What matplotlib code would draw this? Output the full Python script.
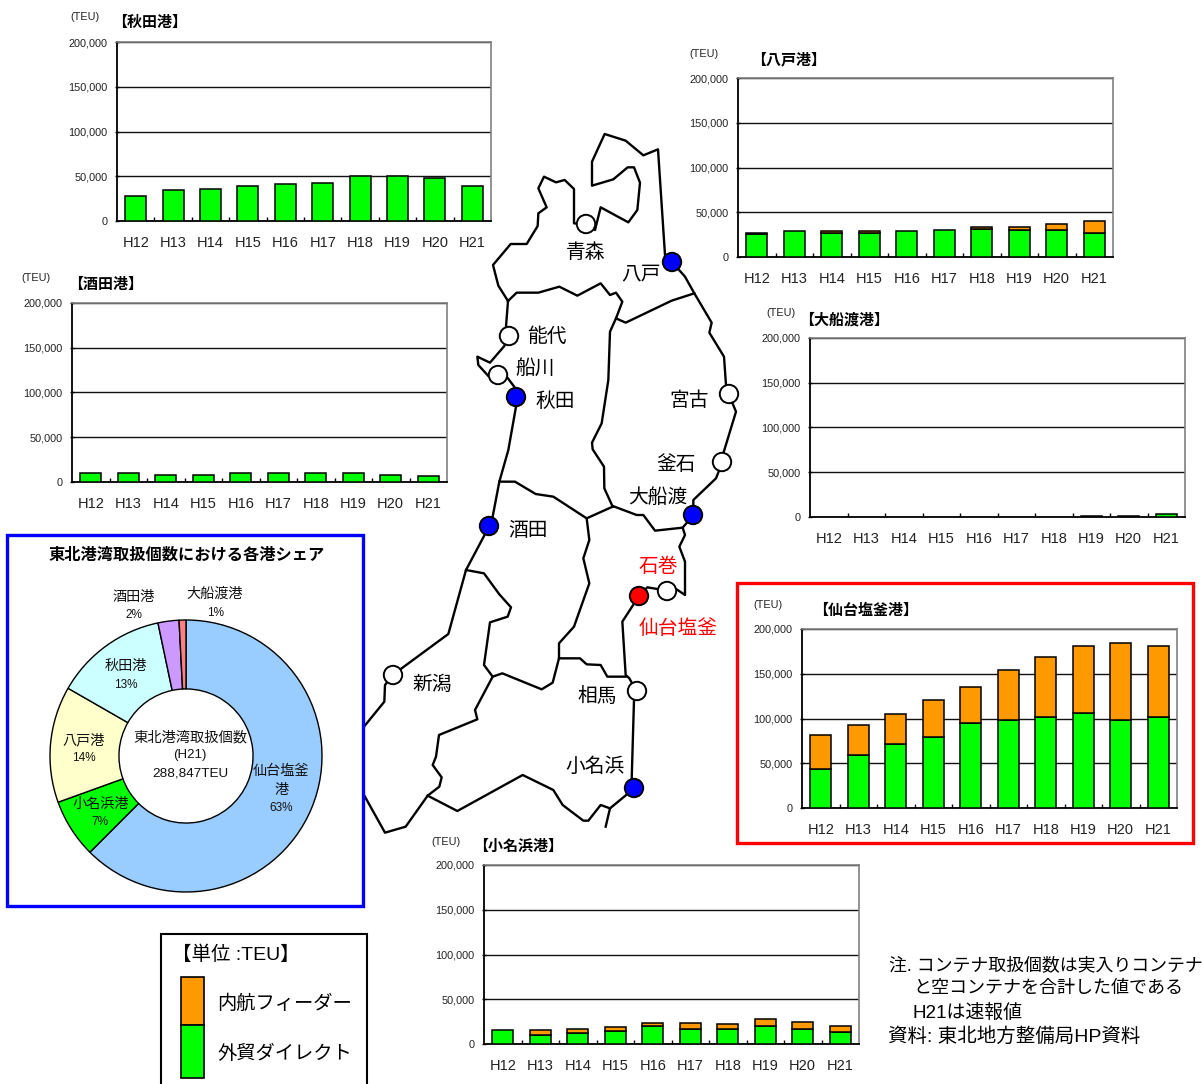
import matplotlib
matplotlib.use("Agg")
import matplotlib.pyplot as plt
from matplotlib.patches import Rectangle, Circle

plt.rcParams["font.family"] = ["Liberation Sans", "Noto Sans CJK JP"]

W, H = 1203, 1084

years = ["H12", "H13", "H14", "H15", "H16", "H17", "H18", "H19", "H20", "H21"]
y_ticks = [0, 50000, 100000, 150000, 200000]

# direct / total per port
akita_direct = [28400, 35100, 36300, 39600, 41100, 43000, 50800, 50800, 47500, 39600]
akita_total = [28400, 35100, 36300, 39600, 41100, 43000, 50800, 50800, 47500, 39600]
hachinohe_direct = [25700, 28700, 26400, 26400, 28700, 30200, 31700, 29800, 29800, 26800]
hachinohe_total = [27200, 28700, 28700, 28700, 28700, 30200, 33500, 33500, 36900, 39900]
sakata_direct = [10000, 10000, 8000, 8000, 9500, 9500, 9500, 9500, 8000, 6500]
sakata_total = [10000, 10000, 8000, 8000, 9500, 9500, 9500, 9500, 8000, 6500]
ofunato_direct = [0, 0, 0, 0, 0, 0, 0, 1500, 1500, 3000]
ofunato_total = [0, 0, 0, 0, 0, 0, 0, 1500, 1500, 3000]
sendai_direct = [43900, 58700, 71700, 79600, 95200, 98500, 101500, 106300, 98500, 101500]
sendai_total = [81400, 92600, 104800, 121200, 135000, 154300, 168400, 180700, 184400, 180700]
onahama_direct = [15300, 10400, 11900, 14900, 20100, 17200, 17200, 20100, 17200, 13800]
onahama_total = [15300, 15700, 17200, 19000, 23900, 23900, 22000, 28400, 25000, 20500]

share_values = [180500, 20200, 39900, 38700, 7200, 2350]
share_colors = ["#99CCFF", "#00FF00", "#FFFFCC", "#CCFFFF", "#CC99FF", "#FF8080"]

GREEN = "#00FF00"
ORANGE = "#FF9900"

# map outlines, pixel positions times 3 relative to the two crops they were traced on
north_lines = [
    [(444, 543), (415, 497), (399, 435), (452, 372), (500, 372), (533, 318), (535, 280), (560, 262),
     (535, 205), (552, 170), (588, 187), (614, 180), (642, 207), (642, 310), (678, 313), (705, 330),
     (722, 262), (805, 307), (832, 270), (840, 188), (822, 142), (803, 142), (760, 178), (696, 197),
     (696, 125), (734, 42), (797, 62), (850, 106), (894, 88), (915, 405), (937, 427), (975, 470),
     (1003, 520), (1055, 608), (1048, 638), (1092, 710), (1098, 795), (1106, 822), (1128, 875),
     (1090, 1000), (1087, 1027), (1068, 1075), (1000, 1140), (1000, 1180)],
    [(444, 543), (470, 518), (535, 518), (598, 500), (652, 527), (722, 490), (750, 525), (768, 518),
     (787, 545), (768, 595), (797, 608), (935, 542), (1003, 520)],
    [(768, 595), (750, 635), (745, 780), (725, 910), (696, 968), (698, 988), (732, 1040), (733, 1105),
     (758, 1160)],
    [(444, 543), (438, 620), (447, 647), (433, 678), (390, 728), (352, 710), (355, 735), (385, 768),
     (414, 766), (440, 770), (470, 810), (470, 832), (468, 860), (445, 990), (418, 1085), (398, 1190)],
    [(418, 1085), (465, 1085), (527, 1122), (580, 1130), (680, 1195), (758, 1160)],
]
south_lines = [
    [(758, 18), (830, 45), (850, 45), (885, 92), (968, 83), (1000, 45)],
    [(968, 83), (975, 105), (958, 140), (975, 185), (975, 285), (950, 268), (922, 272), (862, 262),
     (837, 288), (787, 365), (797, 525), (808, 535), (830, 575), (822, 600), (815, 840), (823, 865),
     (750, 925), (722, 915), (685, 962), (670, 962), (608, 915), (580, 870), (488, 825), (292, 933),
     (203, 887)],
    [(750, 925), (737, 980)],
    [(680, 55), (688, 120), (670, 175), (688, 250), (642, 380), (597, 430), (597, 475), (578, 548),
     (545, 568), (427, 520), (398, 530), (372, 495), (390, 367), (443, 350), (453, 322), (418, 283),
     (372, 220), (318, 210)],
    [(388, 78), (318, 210), (265, 402), (125, 505), (98, 525), (75, 555), (73, 605), (12, 680)],
    [(597, 475), (660, 475), (680, 493), (722, 495), (742, 530), (797, 530)],
    [(398, 530), (345, 630), (352, 658), (237, 705), (228, 770), (218, 795), (245, 832), (238, 860),
     (203, 887), (137, 980), (75, 998), (12, 885)],
]

# port name, marker x, y, marker colour, label x, y, label colour
ports = [
    ("青森", 586, 224, "white", 586, 253, "black"),
    ("八戸", 672, 262, "#0000FF", 641, 275, "black"),
    ("能代", 509, 336, "white", 547, 336, "black"),
    ("船川", 498, 375, "white", 535, 368, "black"),
    ("秋田", 516, 397, "#0000FF", 555, 401, "black"),
    ("宮古", 729, 394, "white", 689, 401, "black"),
    ("釜石", 722, 462, "white", 676, 465, "black"),
    ("大船渡", 693, 515, "#0000FF", 658, 497, "black"),
    ("酒田", 489, 526, "#0000FF", 528, 530, "black"),
    ("石巻", 667, 591, "white", 658, 566, "#FF0000"),
    ("仙台塩釜", 639, 596, "#FF0000", 678, 628, "#FF0000"),
    ("新潟", 393, 675, "white", 432, 684, "black"),
    ("相馬", 637, 691, "white", 597, 696, "black"),
    ("小名浜", 634, 788, "#0000FF", 595, 766, "black"),
]


def px_axes(fig, x0, y0, x1, y1):
    """axes from pixel corners, y counted from the top"""
    return fig.add_axes([x0 / W, 1 - y1 / H, (x1 - x0) / W, (y1 - y0) / H])


def bar_chart(fig, box, direct, total):
    ax = px_axes(fig, *box)
    x = list(range(len(years)))
    for i, (d, t) in enumerate(zip(direct, total)):
        if d > 0:
            ax.bar(i, d, width=0.56, color=GREEN, edgecolor="black", linewidth=1.1, zorder=3)
        if t > d:
            ax.bar(i, t - d, width=0.56, bottom=d, color=ORANGE, edgecolor="black", linewidth=1.1, zorder=3)
    ax.set_xlim(-0.5, len(years) - 0.5)
    ax.set_ylim(0, 200000)
    ax.set_yticks(y_ticks)
    ax.set_yticklabels([f"{v:,}" for v in y_ticks], fontsize=7.8, color="#222222")
    ax.set_xticks(x)
    ax.set_xticklabels(years, fontsize=10.5, color="#222222")
    ax.set_xticks([i + 0.5 for i in x[:-1]], minor=True)
    ax.tick_params(axis="x", which="major", length=0, pad=11)
    ax.tick_params(axis="x", which="minor", length=3, width=1, direction="in", color="black")
    ax.tick_params(axis="y", length=3, width=1, direction="inout", pad=5.5)
    ax.grid(axis="y", color="#111111", linewidth=1)
    ax.set_axisbelow(True)
    for side in ["top", "right"]:
        ax.spines[side].set_color("#808080")
        ax.spines[side].set_linewidth(1.2)
    for side in ["left", "bottom"]:
        ax.spines[side].set_linewidth(1.3)
    return ax


fig = plt.figure(figsize=(W / 100, H / 100), dpi=100, facecolor="white")

bar_chart(fig, (117, 42, 491, 221), akita_direct, akita_total)
bar_chart(fig, (738, 78, 1113, 257), hachinohe_direct, hachinohe_total)
bar_chart(fig, (72, 303, 447, 482), sakata_direct, sakata_total)
bar_chart(fig, (810, 338, 1185, 517), ofunato_direct, ofunato_total)
bar_chart(fig, (802, 629, 1177, 808), sendai_direct, sendai_total)
bar_chart(fig, (484, 865, 859, 1044), onahama_direct, onahama_total)

# donut
ax_pie = px_axes(fig, 186 - 136, 756 - 136, 186 + 136, 756 + 136)
ax_pie.pie(share_values, colors=share_colors, startangle=90, counterclock=False, radius=1,
           wedgeprops={"width": 0.507, "edgecolor": "black", "linewidth": 1})
ax_pie.set_xlim(-1, 1)
ax_pie.set_ylim(-1, 1)
ax_pie.set_aspect("auto")

# overlay in pixels for the map, frames and free text
ov = fig.add_axes([0, 0, 1, 1], facecolor="none")
ov.set_xlim(0, W)
ov.set_ylim(H, 0)
ov.axis("off")

for line in north_lines:
    ov.plot([360 + p[0] / 3 for p in line], [120 + p[1] / 3 for p in line], color="black", lw=1.7, zorder=2)
for line in south_lines:
    ov.plot([360 + p[0] / 3 for p in line], [500 + p[1] / 3 for p in line], color="black", lw=1.7, zorder=2)

for name, mx, my, mc, lx, ly, lc in ports:
    ov.add_patch(Circle((mx, my), 9.2, facecolor=mc, edgecolor="black", linewidth=1.4, zorder=3))
    ov.text(lx, ly, name, fontsize=14.2, color=lc, ha="center", va="center", zorder=4)

ov.add_patch(Rectangle((7, 535), 356, 371, fill=False, edgecolor="#0000FF", linewidth=2.4, zorder=5))
ov.add_patch(Rectangle((737, 583), 456, 260, fill=False, edgecolor="#FF0000", linewidth=2.4, zorder=5))
ov.add_patch(Rectangle((161, 934), 206, 160, facecolor="white", edgecolor="black", linewidth=1.5, zorder=1))

# chart headings
headings = [
    ("【秋田港】", 150, 23, 85, 17),
    ("【八戸港】", 789, 60, 704, 54),
    ("【酒田港】", 106, 285, 36, 278),
    ("【大船渡港】", 844, 320, 781, 313),
    ("【仙台塩釜港】", 866, 611, 768, 605),
    ("【小名浜港】", 518, 847, 446, 842),
]
for title, tx, ty, ux, uy in headings:
    ov.text(tx, ty, title, fontsize=10.8, fontweight="bold", ha="center", va="center")
    ov.text(ux, uy, "(TEU)", fontsize=7.8, color="#222222", ha="center", va="center")

# donut texts
ov.text(187, 555, "東北港湾取扱個数における各港シェア", fontsize=11.7, fontweight="bold", ha="center", va="center")
pie_labels = [
    ("酒田港", 134, 597, 10.2), ("2%", 134, 615, 8.5),
    ("大船渡港", 215, 594, 10.2), ("1%", 216, 613, 8.5),
    ("秋田港", 126, 666, 10.2), ("13%", 126, 685, 8.5),
    ("八戸港", 84, 740, 10.2), ("14%", 84, 758, 8.5),
    ("小名浜港", 101, 804, 10.2), ("7%", 100, 822, 8.5),
    ("仙台塩釜", 281, 771, 10.2), ("港", 282, 790, 10.2), ("63%", 281, 808, 8.5),
    ("東北港湾取扱個数", 190, 737, 10.3), ("(H21)", 190, 755, 9.5), ("288,847TEU", 190, 774, 9.7),
]
for text, x, y, size in pie_labels:
    ov.text(x, y, text, fontsize=size, color="#111111", ha="center", va="center")

# legend
ov.text(172, 955, "【単位 :TEU】", fontsize=14, va="center")
ov.add_patch(Rectangle((181, 977), 23, 48, facecolor=ORANGE, edgecolor="black", linewidth=1.2, zorder=2))
ov.add_patch(Rectangle((181, 1025), 23, 53, facecolor=GREEN, edgecolor="black", linewidth=1.2, zorder=2))
ov.text(217, 1004, "内航フィーダー", fontsize=13.9, va="center")
ov.text(217, 1054, "外貿ダイレクト", fontsize=13.9, va="center")

# notes
ov.text(889, 966, "注. コンテナ取扱個数は実入りコンテナ", fontsize=12.9, va="center")
ov.text(913, 989, "と空コンテナを合計した値である", fontsize=13, va="center")
ov.text(913, 1013, "H21は速報値", fontsize=13.6, va="center")
ov.text(888, 1037, "資料: 東北地方整備局HP資料", fontsize=14, va="center")

plt.savefig("out.png", dpi=100)
plt.close()
